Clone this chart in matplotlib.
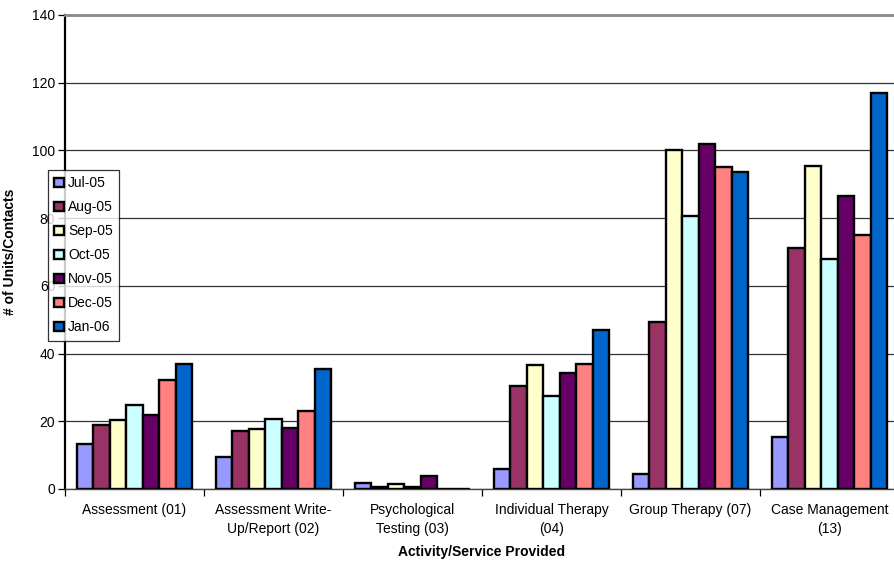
import matplotlib
matplotlib.use("Agg")
import matplotlib.pyplot as plt
import numpy as np

plt.rcParams['font.family'] = ['Liberation Sans', 'DejaVu Sans']

categories = ["Assessment (01)", "Assessment Write-\nUp/Report (02)", "Psychological\nTesting (03)",
              "Individual Therapy\n(04)", "Group Therapy (07)", "Case Management\n(13)"]
months = ["Jul-05", "Aug-05", "Sep-05", "Oct-05", "Nov-05", "Dec-05", "Jan-06"]
jul05 = [13.3, 9.5, 1.9, 5.9, 4.3, 15.5]
aug05 = [19.0, 17.1, 0.7, 30.5, 49.3, 71.2]
sep05 = [20.4, 17.8, 1.5, 36.5, 100.0, 95.4]
oct05 = [24.8, 20.8, 0.7, 27.5, 80.7, 67.8]
nov05 = [21.9, 18.1, 3.9, 34.3, 101.9, 86.5]
dec05 = [32.3, 23.0, 0.0, 37.0, 95.0, 75.0]
jan06 = [36.9, 35.5, 0.0, 47.0, 93.5, 117.0]
series = [jul05, aug05, sep05, oct05, nov05, dec05, jan06]
colors = ["#9999FF", "#993366", "#FFFFCC", "#CCFFFF", "#660066", "#FF8080", "#0066CC"]

fig = plt.figure(figsize=(8.95, 5.63), dpi=100)
ax = fig.add_axes([65/895, 74/563, 834/895, 474/563])

x = np.arange(len(categories))
bw = 0.118
for i, (vals, c, m) in enumerate(zip(series, colors, months)):
    ax.bar(x + (i - 3) * bw, vals, width=bw, color=c, edgecolor="black",
           linewidth=1.7, label=m, zorder=3)

ax.set_xlim(-0.5, len(categories) - 0.5)
ax.set_ylim(0, 140)
ax.set_yticks(np.arange(0, 141, 20))
ax.yaxis.grid(True, color="#333333", linewidth=0.9, zorder=0)
ax.set_axisbelow(True)

ax.set_xticks(x)
ax.set_xticklabels(categories, fontsize=10, linespacing=1.5)
ax.tick_params(axis="x", which="major", length=0, pad=10)
ax.set_xticks(np.arange(-0.5, len(categories)), minor=True)
ax.tick_params(axis="x", which="minor", length=5, width=0.9, direction="out")
ax.tick_params(axis="y", length=5, width=0.9, direction="out", labelsize=10, pad=2)

ax.spines["left"].set_linewidth(1.6)
ax.spines["left"].set_color("black")
ax.spines["bottom"].set_linewidth(1.0)
ax.spines["bottom"].set_color("#444444")
ax.spines["top"].set_linewidth(2.0)
ax.spines["top"].set_color("#8a8a8a")
ax.spines["right"].set_visible(False)

fig.text((65 + 899) / 2 / 895, 1 - 552 / 563, "Activity/Service Provided",
         fontsize=10, fontweight="bold", ha="center", va="center")
ax.set_ylabel("# of Units/Contacts", fontsize=10, fontweight="bold")
ax.yaxis.set_label_coords(-(65 - 17) / 834, 0.5)

leg = fig.legend(loc="upper left", bbox_to_anchor=(48/895, 1 - 170/563), fontsize=10,
                 frameon=True, fancybox=False, handlelength=0.7, handleheight=0.7,
                 handletextpad=0.3, labelspacing=0.72, borderpad=0.45, borderaxespad=0)
leg.get_frame().set_edgecolor("black")
leg.get_frame().set_linewidth(0.9)
leg.set_zorder(10)

fig.savefig("out.png", dpi=100)
